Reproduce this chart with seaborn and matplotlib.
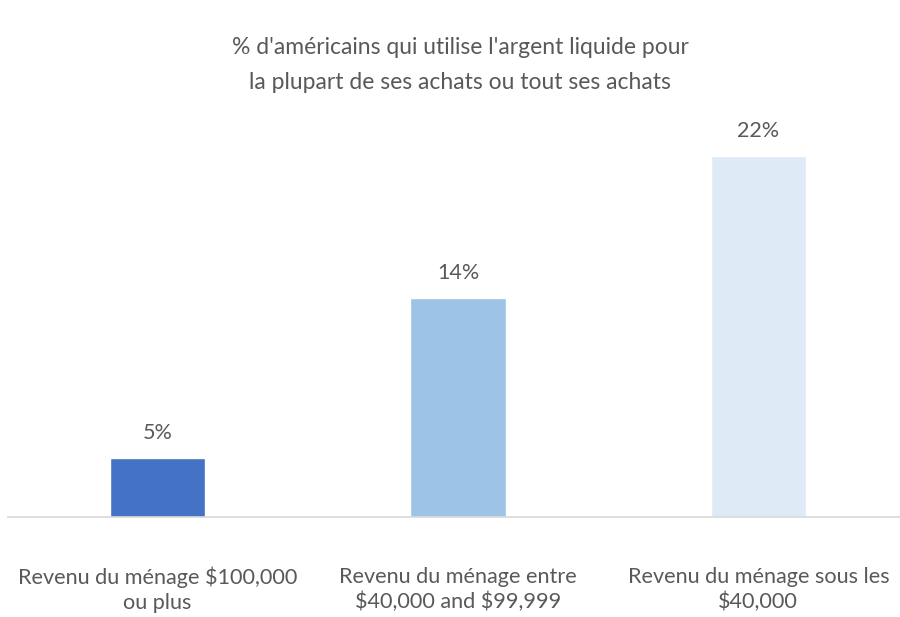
import matplotlib
matplotlib.use("Agg")
import matplotlib.pyplot as plt
import seaborn as sns
import pandas as pd

categories = ["Revenu du ménage $100,000\nou plus",
              "Revenu du ménage entre\n$40,000 and $99,999",
              "Revenu du ménage sous les\n$40,000"]
values = [5, 14, 22]
labels = ["5%", "14%", "22%"]
colors = ["#4472C4", "#9DC3E6", "#DEEBF7"]
title = "% d'américains qui utilise l'argent liquide pour\nla plupart de ses achats ou tout ses achats"

sns.set_theme(style="white")
plt.rcParams['font.family'] = ['Lato', 'DejaVu Sans']
plt.rcParams['text.parse_math'] = False
text_color = "#595959"

df = pd.DataFrame({"cat": categories, "val": values})

fig = plt.figure(figsize=(9, 6.17), dpi=100)
ax = fig.add_axes([7.5 / 900, 100 / 617, 901 / 900, 414 / 617])

sns.barplot(data=df, x="cat", y="val", hue="cat", palette=colors,
            legend=False, width=0.317, ax=ax, saturation=1)

ax.set_ylim(1.68, 25)
ax.set_xlim(-0.5, 2.5)
ax.set_xlabel("")
ax.set_ylabel("")
ax.set_yticks([])
for s in ["top", "right", "left"]:
    ax.spines[s].set_visible(False)
ax.spines["bottom"].set_color("#D9D9D9")
ax.spines["bottom"].set_linewidth(1.2)
ax.tick_params(axis="x", length=0, pad=36, labelsize=15.6, labelcolor=text_color)
for t in ax.get_xticklabels():
    t.set_linespacing(1.3)

for p, lab in zip(ax.patches, labels):
    ax.annotate(lab, (p.get_x() + p.get_width() / 2, p.get_height()),
                xytext=(0, 11), textcoords="offset points",
                ha="center", va="bottom", fontsize=15.5, color=text_color)

fig.text(460 / 900, 1 - 65 / 617, title, ha="center", va="center",
         fontsize=16.5, color=text_color, linespacing=1.78)

fig.savefig("out.png", dpi=100)
